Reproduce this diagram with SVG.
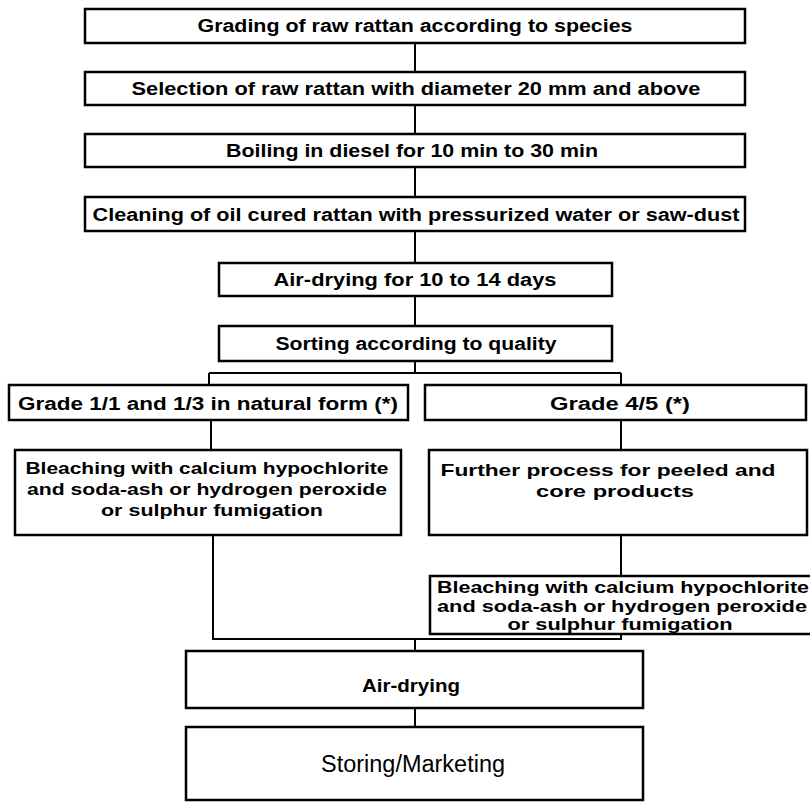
<svg xmlns="http://www.w3.org/2000/svg" width="810" height="805" viewBox="0 0 810 805">
<style>
.box{fill:#fff;stroke:#000;stroke-width:2.5}
.t{font-family:"Liberation Sans",Arial,sans-serif;font-weight:bold;font-size:18px;fill:#000;text-anchor:middle}
.s{font-size:16.5px}
.r{font-weight:normal;font-size:23px}
.c{fill:none;stroke:#000;stroke-width:2}
</style>
<rect width="810" height="805" fill="#fff"/>
<g id="connectors">
<path class="c" d="M415 43V72M415 105V134M415 167V197M415 231V263M415 296V326M415 361V373M209 373H621M209 373V385M621 373V385M211 420V450M621 420V450M621 535V576M213 535V639H621V634M415 639V651M415 708V727"/>
</g>
<g id="n1"><rect class="box" x="85" y="9" width="660" height="34"/><text class="t" x="415" y="32" textLength="435" lengthAdjust="spacingAndGlyphs">Grading of raw rattan according to species</text></g>
<g id="n2"><rect class="box" x="85" y="72" width="660" height="33"/><text class="t" x="416" y="95" textLength="569" lengthAdjust="spacingAndGlyphs">Selection of raw rattan with diameter 20 mm and above</text></g>
<g id="n3"><rect class="box" x="85" y="134" width="660" height="33"/><text class="t" x="412" y="157" textLength="372" lengthAdjust="spacingAndGlyphs">Boiling in diesel for 10 min to 30 min</text></g>
<g id="n4"><rect class="box" x="85" y="197" width="660" height="34"/><text class="t" x="416" y="221" textLength="647" lengthAdjust="spacingAndGlyphs">Cleaning of oil cured rattan with pressurized water or saw-dust</text></g>
<g id="n5"><rect class="box" x="219" y="263" width="393" height="33"/><text class="t" x="415" y="286" textLength="283" lengthAdjust="spacingAndGlyphs">Air-drying for 10 to 14 days</text></g>
<g id="n6"><rect class="box" x="219" y="326" width="393" height="35"/><text class="t" x="416" y="350" textLength="281" lengthAdjust="spacingAndGlyphs">Sorting according to quality</text></g>
<g id="n7"><rect class="box" x="9" y="385" width="399" height="35"/><text class="t" x="208" y="410" textLength="380" lengthAdjust="spacingAndGlyphs">Grade 1/1 and 1/3 in natural form (*)</text></g>
<g id="n8"><rect class="box" x="425" y="385" width="381" height="35"/><text class="t" x="620" y="410" textLength="140" lengthAdjust="spacingAndGlyphs">Grade 4/5 (*)</text></g>
<g id="n9"><rect class="box" x="15" y="450" width="386" height="85"/>
<text class="t s" x="207" y="474" textLength="363" lengthAdjust="spacingAndGlyphs">Bleaching with calcium hypochlorite</text>
<text class="t s" x="207" y="495" textLength="360" lengthAdjust="spacingAndGlyphs">and soda-ash or hydrogen peroxide</text>
<text class="t s" x="212" y="516" textLength="222" lengthAdjust="spacingAndGlyphs">or sulphur fumigation</text></g>
<g id="n10"><rect class="box" x="429" y="450" width="378" height="85"/>
<text class="t s" x="608" y="476" textLength="335" lengthAdjust="spacingAndGlyphs">Further process for peeled and</text>
<text class="t s" x="615" y="497" textLength="158" lengthAdjust="spacingAndGlyphs">core products</text></g>
<g id="n11"><rect class="box" x="430" y="576" width="382" height="58"/>
<text class="t s" x="623" y="593" textLength="372" lengthAdjust="spacingAndGlyphs">Bleaching with calcium hypochlorite</text>
<text class="t s" x="622" y="612" textLength="370" lengthAdjust="spacingAndGlyphs">and soda-ash or hydrogen peroxide</text>
<text class="t s" x="620" y="630" textLength="225" lengthAdjust="spacingAndGlyphs">or sulphur fumigation</text></g>
<g id="n12"><rect class="box" x="186" y="651" width="457" height="57"/><text class="t" x="411" y="692" textLength="98" lengthAdjust="spacingAndGlyphs">Air-drying</text></g>
<g id="n13"><rect class="box" x="186" y="727" width="457" height="73"/><text class="t r" x="413" y="772" textLength="184" lengthAdjust="spacingAndGlyphs">Storing/Marketing</text></g>
</svg>
